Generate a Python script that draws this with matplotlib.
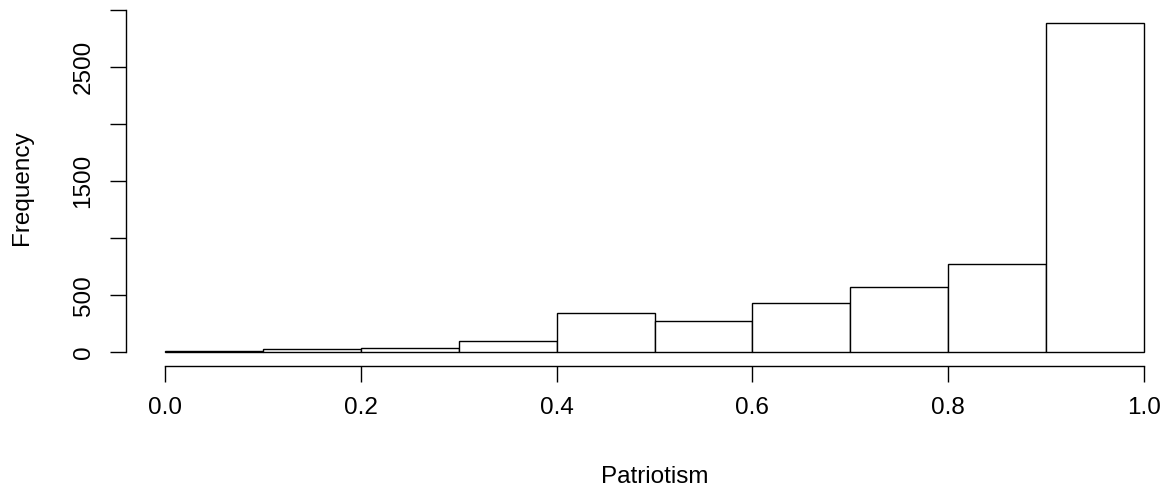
import matplotlib.pyplot as plt

plt.rcParams['font.family'] = ['Liberation Sans', 'DejaVu Sans']

# histogram of patriotism scores, bins of width 0.1
bin_edges = [0.0, 0.1, 0.2, 0.3, 0.4, 0.5, 0.6, 0.7, 0.8, 0.9]
counts = [10, 29, 40, 99, 342, 277, 430, 576, 777, 2891]
x_ticks = [0.0, 0.2, 0.4, 0.6, 0.8, 1.0]
x_labels = ["0.0", "0.2", "0.4", "0.6", "0.8", "1.0"]
y_ticks = [0, 500, 1000, 1500, 2000, 2500, 3000]
y_labels = ["0", "500", "", "1500", "", "2500", ""]

W, H = 1176, 494
fs = 17.5
fig = plt.figure(figsize=(W / 100, H / 100), dpi=100)
left, right, top, bottom = 125.8, 1176, 9.6, 366
ax = fig.add_axes([left / W, (H - bottom) / H, (right - left) / W, (bottom - top) / H])

ax.bar(bin_edges, counts, width=0.1, align='edge', color='white',
       edgecolor='black', linewidth=1.0)

# pixel scale: 0..1 -> 165..1144, 0 counts at y=352.3, 0.114 px per count
px_x = 979.0
ax.set_xlim(-(165 - left) / px_x, (right - 165) / px_x)
px_y = 0.114
ax.set_ylim(-(bottom - 352.3) / px_y, (352.3 - top) / px_y)

for s in ['top', 'right']:
    ax.spines[s].set_visible(False)
ax.spines['left'].set_bounds(0, 3000)
ax.spines['bottom'].set_bounds(0, 1)
for s in ['left', 'bottom']:
    ax.spines[s].set_linewidth(1.0)

ax.set_xticks(x_ticks)
ax.set_xticklabels(x_labels)
ax.set_yticks(y_ticks)
ax.set_yticklabels(y_labels, rotation=90, va='center')
ax.tick_params(axis='both', length=11.5, width=1.0, labelsize=fs, colors='black')
ax.tick_params(axis='x', pad=11)
ax.tick_params(axis='y', pad=11)

# axis titles placed in pixels like R's mtext lines
fig.text(654.5 / W, 1 - 483.3 / H, "Patriotism", fontsize=fs,
         ha='center', va='baseline')
fig.text(28.3 / W, 1 - 188 / H, "Frequency", fontsize=fs, rotation=90,
         ha='center', va='baseline', rotation_mode='anchor')

plt.savefig("out.png", dpi=100)
